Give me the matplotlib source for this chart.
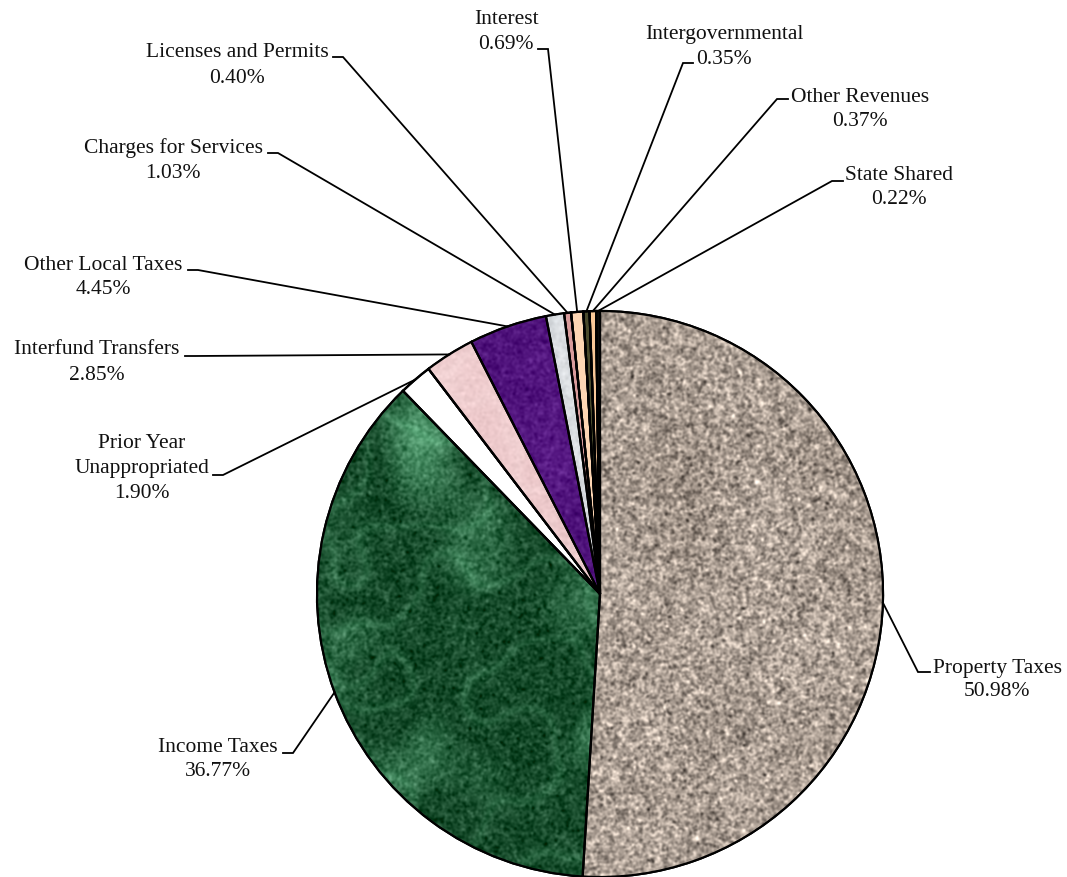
import numpy as np
import matplotlib
matplotlib.use('Agg')
import matplotlib.pyplot as plt
from matplotlib.patches import Wedge

# Revenue sources, clockwise from 12 o'clock
categories = ['Property Taxes', 'Income Taxes', 'Prior Year\nUnappropriated',
              'Interfund Transfers', 'Other Local Taxes', 'Charges for Services',
              'Licenses and Permits', 'Interest', 'Intergovernmental',
              'Other Revenues', 'State Shared']
shares = [50.98, 36.77, 1.90, 2.85, 4.45, 1.03, 0.40, 0.69, 0.35, 0.37, 0.22]

colors = ['#aa9c90', '#1d5a36', '#ffffff', '#ebc8c8', '#4e1480', '#d8dcdf',
          '#d99c9c', '#fdd6b4', '#4a4a2c', '#f9c898', '#111111']

W, H = 1067, 878
CX, CY, R = 600, 595, 283      # pie centre / radius in pixels (y from top)


def P(x, y):
    # pixel (y down) -> data (y up)
    return x, H - y


# label layout in pixels: text centre x, line centres y, leader elbow, tick end
label_pos = [
    (997, [668, 692], (918, 673), (930, 673)),
    (218, [748, 772], (293, 754), (283, 754)),
    (142, [444, 469, 494], (223, 476), (213, 476)),
    (97, [349, 375], (195, 357), (185, 357)),
    (103, [265, 290], (198, 271), (188, 271)),
    (173, [148, 173], (278, 154), (268, 154)),
    (237, [52, 78], (343, 58), (333, 58)),
    (506, [19, 44], (548, 50), (538, 50)),
    (724, [34, 59], (683, 64), (693, 64)),
    (860, [97, 122], (777, 100), (788, 100)),
    (899, [175, 200], (832, 182), (843, 182)),
]


def blur(a, s):
    # gaussian blur through FFT
    ky = np.fft.fftfreq(a.shape[0])[:, None]
    kx = np.fft.fftfreq(a.shape[1])[None, :]
    g = np.exp(-2 * (np.pi * s) ** 2 * (kx ** 2 + ky ** 2))
    return np.real(np.fft.ifft2(np.fft.fft2(a) * g))


def norm(a):
    return (a - a.mean()) / a.std()


rng = np.random.default_rng(7)
N = 600


def granite():
    base = np.array([170, 157, 146]) / 255
    n = norm(blur(rng.standard_normal((N, N)), 1.2))
    m = norm(blur(rng.standard_normal((N, N)), 25))
    tint = np.array([1.0, 0.95, 0.9])
    img = base + 0.11 * n[..., None] * tint + 0.015 * m[..., None]
    return np.clip(img, 0, 1)


def marble(base, vein, fine_amp, vein_amp, scale, width=0.25, cloud=0.2):
    base = np.array(base) / 255
    vein = np.array(vein) / 255
    n = norm(blur(rng.standard_normal((N, N)), scale))
    v = np.exp(-np.abs(n) / width)
    f = norm(blur(rng.standard_normal((N, N)), 1.2))
    m = norm(blur(rng.standard_normal((N, N)), 30))
    t = vein_amp * v + cloud * np.clip(m, 0, None)
    t = np.clip(blur(t, 2.0), 0, 1)
    img = base * (1 - t[..., None]) + vein * t[..., None] + fine_amp * f[..., None]
    return np.clip(img, 0, 1)


textures = {
    0: granite(),
    1: marble((20, 72, 40), (90, 165, 120), 0.05, 0.4, 22, 0.22, 0.3),
    3: marble((236, 200, 202), (248, 222, 222), 0.015, 0.4, 18),
    4: marble((78, 18, 122), (105, 40, 150), 0.03, 0.3, 12),
    5: marble((212, 216, 220), (245, 246, 248), 0.02, 0.7, 10),
}

fig = plt.figure(figsize=(W / 100, H / 100), dpi=100)
ax = fig.add_axes([0, 0, 1, 1])

wedges, _ = ax.pie(shares, colors=colors, startangle=90, counterclock=False,
                   center=P(CX, CY), radius=R,
                   wedgeprops=dict(edgecolor='black', linewidth=1.6))

for i, img in textures.items():
    w = wedges[i]
    im = ax.imshow(img, extent=(CX - R, CX + R, H - CY - R, H - CY + R),
                   origin='lower', interpolation='bilinear', zorder=2)
    im.set_clip_path(w)

for w in wedges:
    ax.add_patch(Wedge(w.center, w.r, w.theta1, w.theta2, fill=False,
                       edgecolor='black', linewidth=1.6, zorder=3))

font = dict(family='Liberation Serif', size=15.5, color='#111111')
for w, name, v, (tx, ys, elbow, tick) in zip(wedges, categories, shares, label_pos):
    mid = np.deg2rad((w.theta1 + w.theta2) / 2)
    ex = w.center[0] + w.r * np.cos(mid)
    ey = w.center[1] + w.r * np.sin(mid)
    bx, by = P(*elbow)
    kx, ky = P(*tick)
    ax.plot([ex, bx, kx], [ey, by, ky], color='black', lw=1.3,
            solid_joinstyle='miter', zorder=4)
    lines = name.split('\n') + [f'{v:.2f}%']
    for line, y in zip(lines, ys):
        ax.text(tx, H - y, line, ha='center', va='center', **font)

ax.set_xlim(0, W)
ax.set_ylim(0, H)
ax.set_aspect('equal')
ax.axis('off')

fig.savefig('out.png', dpi=100, facecolor='white')
